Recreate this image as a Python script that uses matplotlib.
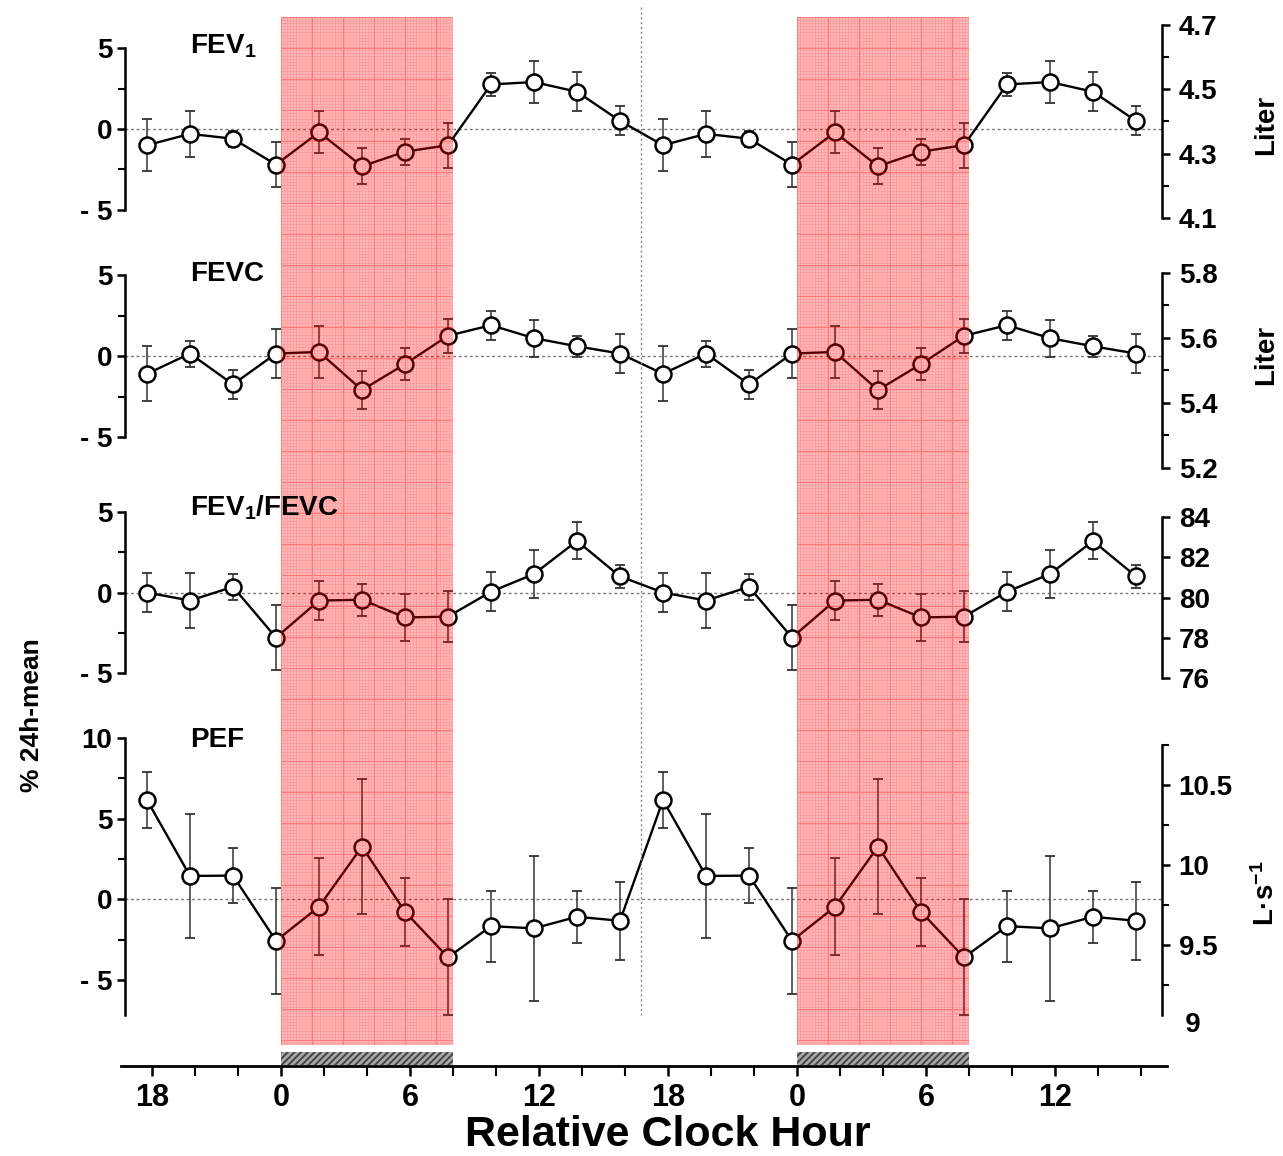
import numpy as np
import matplotlib
matplotlib.use("Agg")
import matplotlib.pyplot as plt
from matplotlib.ticker import FixedLocator, MultipleLocator

plt.rcParams['font.family'] = ['Liberation Sans', 'DejaVu Sans']
plt.rcParams['font.weight'] = 'bold'
plt.rcParams['mathtext.fontset'] = 'custom'
plt.rcParams['mathtext.rm'] = 'Liberation Sans'
plt.rcParams['mathtext.bf'] = 'Liberation Sans:bold'
plt.rcParams['mathtext.default'] = 'bf'
plt.rcParams['hatch.linewidth'] = 1.4

# *** data (one 24h profile, double plotted) *** #
clock_hours = [-6, -4, -2, 0, 2, 4, 6, 8, 10, 12, 14, 16]   # 18h ... 16h
fev1 = [-1.0, -0.3, -0.6, -2.2, -0.2, -2.3, -1.4, -1.0, 2.75, 2.9, 2.3, 0.5]
fev1_err = [1.6, 1.4, 0.5, 1.4, 1.3, 1.1, 0.8, 1.4, 0.7, 1.3, 1.2, 0.9]
fevc = [-1.1, 0.15, -1.75, 0.15, 0.25, -2.1, -0.5, 1.25, 1.9, 1.1, 0.6, 0.15]
fevc_err = [1.7, 0.8, 0.9, 1.5, 1.6, 1.2, 1.0, 1.05, 0.9, 1.15, 0.65, 1.2]
ratio = [0.0, -0.5, 0.35, -2.8, -0.5, -0.45, -1.55, -1.5, 0.05, 1.15, 3.2, 1.0]
ratio_err = [1.2, 1.7, 0.8, 2.0, 1.2, 1.0, 1.45, 1.6, 1.2, 1.5, 1.15, 0.7]
pef = [6.15, 1.45, 1.47, -2.57, -0.46, 3.27, -0.77, -3.6, -1.66, -1.8, -1.08, -1.33]
pef_err = [1.75, 3.85, 1.7, 3.3, 3.0, 4.2, 2.1, 3.6, 2.2, 4.5, 1.6, 2.4]

sleep_spans = [(0, 8), (24, 32)]
divider_hour = 16.75
x_tick_hours = [-6, 0, 6, 12, 18, 24, 30, 36]
x_tick_labels = ['18', '0', '6', '12', '18', '0', '6', '12']

W, H = 1283, 1156
fig = plt.figure(figsize=(W / 100, H / 100), dpi=100)


def px_axes(x0, y0, x1, y1, **kw):
    return fig.add_axes([x0 / W, 1 - y1 / H, (x1 - x0) / W, (y1 - y0) / H], **kw)


def lim_from(anchor, top, bot):
    # anchor = (v_hi, y_hi, v_lo, y_lo) in pixels
    v_hi, y_hi, v_lo, y_lo = anchor
    s = (y_lo - y_hi) / (v_hi - v_lo)
    return v_hi - (bot - y_hi) / s, v_hi + (y_hi - top) / s


panels = [
    dict(title='FEV$_1$', vals=fev1, err=fev1_err, top=22, bot=222,
         left=(5, 48, -5, 210), lb=(-5, 5), lticks=[5, 0, -5], lminor=[2.5, -2.5],
         right=(4.7, 25, 4.1, 218), rb=(4.1, 4.7), rticks=[4.1, 4.3, 4.5, 4.7],
         rminor=[4.2, 4.4, 4.6], rfmt='%.1f', unit='Liter', unit_y=125, title_y=46),
    dict(title='FEVC', vals=fevc, err=fevc_err, top=268, bot=472,
         left=(5, 275, -5, 437), lb=(-5, 5), lticks=[5, 0, -5], lminor=[2.5, -2.5],
         right=(5.8, 273, 5.2, 468), rb=(5.2, 5.8), rticks=[5.2, 5.4, 5.6, 5.8],
         rminor=[5.3, 5.5, 5.7], rfmt='%.1f', unit='Liter', unit_y=355, title_y=274),
    dict(title='FEV$_1$/FEVC', vals=ratio, err=ratio_err, top=505, bot=682,
         left=(5, 512, -5, 673), lb=(-5, 5), lticks=[5, 0, -5], lminor=[2.5, -2.5],
         right=(84, 517, 76, 678), rb=(76, 84), rticks=[76, 78, 80, 82, 84],
         rminor=[], rfmt='%d', unit=None, unit_y=None, title_y=508),
    dict(title='PEF', vals=pef, err=pef_err, top=735, bot=1018,
         left=(10, 738, -5, 980), lb=(-7.17, 10), lticks=[10, 5, 0, -5], lminor=[7.5, 2.5, -2.5],
         right=(10.5, 785, 9.5, 945), rb=(9.06, 10.75), rticks=[9.5, 10, 10.5],
         rminor=[9.25, 9.75, 10.25, 10.75], rfmt='%g', unit='L·s$^{-1}$', unit_y=893, title_y=740),
]

# panel x mapping: hour h -> 276 + 21.5 h (pixels)
px0, pscale = 276, 21.5
pan_left, pan_right = 125, 1162
x_all = np.concatenate([clock_hours, np.array(clock_hours) + 24])

for p in panels:
    ax = px_axes(pan_left, p['top'], pan_right, p['bot'])
    ax.set_facecolor('none')
    ax.set_xlim((pan_left - px0) / pscale, (pan_right - px0) / pscale)
    ax.set_ylim(*lim_from(p['left'], p['top'], p['bot']))
    tw = ax.twinx()
    tw.set_ylim(*lim_from(p['right'], p['top'], p['bot']))

    for s in ['top', 'bottom', 'right']:
        ax.spines[s].set_visible(False)
    for s in ['top', 'bottom', 'left']:
        tw.spines[s].set_visible(False)
    ax.spines['left'].set_bounds(*p['lb'])
    ax.spines['left'].set_linewidth(1.8)
    tw.spines['right'].set_bounds(*p['rb'])
    tw.spines['right'].set_linewidth(1.8)
    ax.set_xticks([])

    ax.yaxis.set_major_locator(FixedLocator(p['lticks']))
    ax.yaxis.set_minor_locator(FixedLocator(p['lminor']))
    ax.set_yticklabels([('- %d' % -t) if t < 0 else '%d' % t for t in p['lticks']])
    ax.tick_params(axis='y', which='major', length=6, width=1.8, labelsize=20, pad=3)
    ax.tick_params(axis='y', which='minor', length=5, width=1.5)

    tw.yaxis.set_major_locator(FixedLocator(p['rticks']))
    tw.yaxis.set_minor_locator(FixedLocator(p['rminor']))
    tw.set_yticklabels([p['rfmt'] % t for t in p['rticks']])
    tw.tick_params(axis='y', which='major', length=6, width=1.8, labelsize=20, pad=6)
    tw.tick_params(axis='y', which='minor', length=5, width=1.5)
    if p['title'] == 'PEF':
        tw.text(1.0, 9.0, '   9', transform=tw.get_yaxis_transform(), fontsize=20,
                va='center', ha='left')

    ax.axhline(0, color='#777777', lw=1.0, ls=(0, (2, 2)), zorder=1)
    y_all = np.tile(p['vals'], 2)
    e_all = np.tile(p['err'], 2)
    ax.errorbar(x_all, y_all, yerr=e_all, fmt='none', ecolor='#333333',
                elinewidth=1.1, capsize=3.5, capthick=1.3, zorder=2)
    ax.plot(x_all, y_all, '-o', color='black', lw=1.7, ms=11.5, mfc='white',
            mec='black', mew=1.8, zorder=3)

    fig.text(190 / W, 1 - p['title_y'] / H, p['title'], fontsize=20, va='center', ha='left')
    if p['unit']:
        fig.text(1266 / W, 1 - p['unit_y'] / H, p['unit'], fontsize=20, rotation=90,
                 va='center', ha='center')

fig.text(32 / W, 1 - 715 / H, '% 24h-mean', fontsize=19, rotation=90, va='center', ha='center')

# *** overlay: sleep shading, divider, time axis *** #
ox0, oscale = 281, 21.5
ov_left, ov_right, ov_top, ov_bot = 121, 1167, 7, 1066
ov = px_axes(ov_left, ov_top, ov_right, ov_bot)
ov.set_facecolor('none')
ov.set_xlim((ov_left - ox0) / oscale, (ov_right - ox0) / oscale)
ov.set_ylim(ov_bot, ov_top)
for s in ['top', 'left', 'right']:
    ov.spines[s].set_visible(False)
ov.spines['bottom'].set_linewidth(2.0)
ov.set_yticks([])
ov.xaxis.set_major_locator(FixedLocator(x_tick_hours))
ov.xaxis.set_minor_locator(MultipleLocator(2))
ov.set_xticklabels(x_tick_labels)
ov.tick_params(axis='x', which='major', length=7, width=1.8, labelsize=22, pad=5)
ov.tick_params(axis='x', which='minor', length=7, width=1.5)

shade_top, shade_bot = 17, 1045
for s0, s1 in sleep_spans:
    w_px = int(round((s1 - s0) * oscale))
    h_px = shade_bot - shade_top
    alpha = np.full((h_px, w_px), 0.28)
    alpha[::3, :] = 0.38
    alpha[:, ::3] = 0.38
    alpha[::31, :] = 0.52
    alpha[:, ::31] = 0.52
    tex = np.zeros((h_px, w_px, 4))
    tex[..., 0] = 1.0
    tex[..., 3] = alpha
    ov.imshow(tex, extent=(s0, s1, shade_bot, shade_top), aspect='auto',
              interpolation='nearest', zorder=5)
    ov.fill_between([s0, s1], 1052, 1065, facecolor='#a8a8a8', edgecolor='#444444',
                    hatch='/////', lw=0, zorder=4)

ov.plot([divider_hour, divider_hour], [ov_top, 1015], color='#888888', lw=1.0,
        ls=(0, (1.5, 2)), zorder=1)
ov.set_xlim((ov_left - ox0) / oscale, (ov_right - ox0) / oscale)
ov.set_ylim(ov_bot, ov_top)

fig.text(668 / W, 1 - 1135 / H, 'Relative Clock Hour', fontsize=31, va='center', ha='center')

fig.savefig('out.png', dpi=100)
